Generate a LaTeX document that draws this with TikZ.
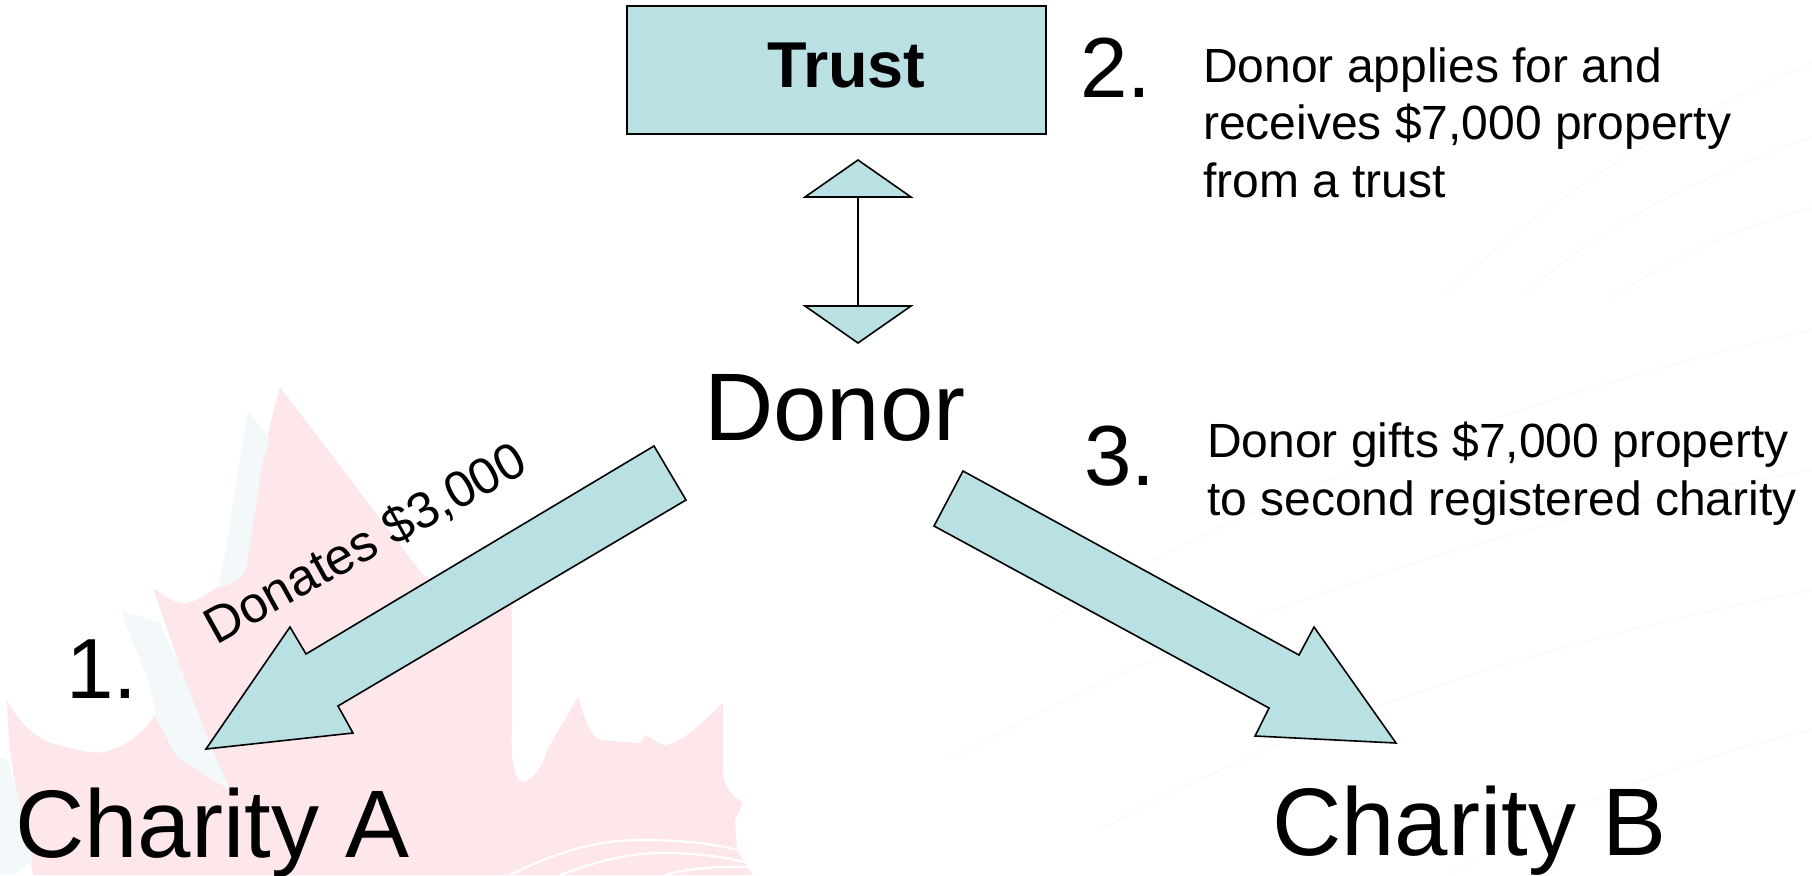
\documentclass[tikz,border=0pt]{standalone}
\usepackage{fontspec}
\setmainfont{Liberation Sans}
\usetikzlibrary{positioning}
\definecolor{boxteal}{HTML}{B9E0E3}
\definecolor{leafpink}{HTML}{FDE7EA}
\definecolor{leafblue}{HTML}{F3F8FA}
\definecolor{faintgrey}{HTML}{FAFAFA}

\begin{document}
\begin{tikzpicture}[
	x=0.75pt, y=-0.75pt,
	every node/.style={inner sep=0pt, outer sep=0pt, anchor=base west},
	shapefill/.style = {draw=black, fill=boxteal, line width=1.2pt, line join=miter},
	party/.style = {font=\fontsize{72}{80}\selectfont},
	stepnum/.style = {font=\fontsize{64}{70}\selectfont},
	note/.style = {font=\fontsize{36}{43.1}\selectfont, align=left},
	swoosh/.style = {draw=white, line width=1.6pt},
	faint/.style = {draw=faintgrey, line width=1.2pt}
  ]
	\useasboundingbox (0,0) rectangle (1812,875);

	% background leaf
	\fill[leafpink] (33,875) -- (17,793) .. controls (10,760) and (8,730) .. (7,700)
		.. controls (25,735) and (50,745) .. (67,747) .. controls (85,752) and (100,755) .. (110,750)
		.. controls (130,745) and (145,730) .. (155,715) -- (177,757) -- (230,790) -- (207,737)
		-- (180,667) -- (153,588) .. controls (170,600) and (180,605) .. (187,603)
		.. controls (200,600) and (210,592) .. (217,587) .. controls (235,585) and (245,575) .. (247,563)
		.. controls (255,500) and (262,450) .. (280,387) -- (423,575) -- (512,603) -- (512,727)
		.. controls (510,760) and (515,782) .. (523,782) .. controls (535,780) and (545,760) .. (547,750)
		-- (578,697) .. controls (585,720) and (590,735) .. (600,740) -- (640,743) -- (645,735) -- (663,745)
		.. controls (680,745) and (700,725) .. (723,703) -- (723,773) .. controls (725,790) and (735,798) .. (743,803)
		-- (735,820) -- (737,850) -- (753,875) -- cycle;
	\fill[leafblue] (248,410) -- (270,440) -- (263,460) -- (247,563)
		.. controls (245,575) and (235,585) .. (218,587) .. controls (228,550) and (232,500) .. (248,410) -- cycle;
	\fill[leafblue] (120,610) -- (160,623) -- (180,667) -- (207,737) -- (230,790) -- (177,757) -- (157,717) -- (147,677) -- cycle;
	\fill[leafblue] (0,757) -- (8,760) -- (17,793) -- (33,860) -- (15,875) -- (0,875) -- cycle;
	\draw[swoosh] (510,875) .. controls (560,850) and (600,840) .. (640,840) .. controls (680,840) and (710,843) .. (737,850);
	\draw[swoosh] (560,875) .. controls (600,860) and (630,853) .. (665,853) .. controls (700,853) and (730,858) .. (753,864);
	\draw[swoosh] (665,875) .. controls (690,868) and (720,866) .. (753,867);

	% faint lines on the right
	\draw[faint] (1443,297) .. controls (1480,260) and (1600,150) .. (1812,63);
	\draw[faint] (1523,297) .. controls (1570,250) and (1660,190) .. (1812,137);
	\draw[faint] (1613,297) .. controls (1670,260) and (1740,225) .. (1812,208);
	\draw[faint] (1050,620) .. controls (1200,520) and (1500,400) .. (1812,330);
	\draw[faint] (950,760) .. controls (1200,620) and (1500,520) .. (1812,470);
	\draw[faint] (1100,830) .. controls (1300,720) and (1550,640) .. (1812,590);
	\draw[faint] (1450,875) .. controls (1550,810) and (1680,760) .. (1812,730);

	\coordinate (upBaseL) at (805,197);
	\coordinate (upBaseR) at (911,197);
	\coordinate (upTip) at (858,160);
	\coordinate (upFoot) at (858,197);
	\coordinate (downBaseL) at (805,306);
	\coordinate (downBaseR) at (911,306);
	\coordinate (downTip) at (858,343);
	\coordinate (downFoot) at (858,306);

	\draw[shapefill] (627,6) rectangle (1046,134);
	\node[font=\fontsize{48.6}{50}\bfseries] (trust) at (767,87) {Trust};

	\draw[shapefill] (upTip) -- (upBaseR) -- (upBaseL) -- cycle;
	\draw[shapefill] (downTip) -- (downBaseR) -- (downBaseL) -- cycle;
	\draw[line width=1.2pt] (upFoot) -- (downFoot);

	\node[party] (donor) at (704,440) {Donor};
	\node[party] (charityA) at (15,857) {Charity A};
	\node[party] (charityB) at (1272,855) {Charity B};

	\node[stepnum] (num1) at (66,698) {1.};
	\node[stepnum] (num2) at (1080,97) {2.};
	\node[stepnum] (num3) at (1084,485) {3.};

	\node[note] (note2) at (1203,197) {Donor applies for and\\receives \$7,000 property\\from a trust};
	\node[note] (note3) at (1207,515) {Donor gifts \$7,000 property\\to second registered charity};
	\node[note, font=\fontsize{38.2}{43}\selectfont, rotate=29] (donates) at (216,645) {Donates \$3,000};

	% big arrows
	\draw[shapefill] (654,446) -- (686,500) -- (338,706) -- (353,733) -- (206,749) -- (290,627) -- (306,654) -- cycle;
	\draw[shapefill] (963,471) -- (934,526) -- (1269,708) -- (1255,736) -- (1396,743) -- (1314,627) -- (1299,655) -- cycle;

\end{tikzpicture}
\end{document}
